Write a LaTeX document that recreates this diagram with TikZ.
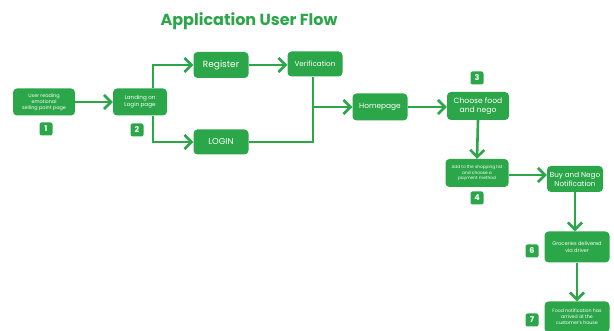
\documentclass[tikz,border=0pt]{standalone}
\usepackage{fontspec}
\setmainfont{Poppins}
\usetikzlibrary{calc, positioning, arrows.meta}

\begin{document}
\begin{tikzpicture}[x=1pt,y=1pt]
\definecolor{flowgreen}{RGB}{43,166,73}
\tikzset{
  stepbox/.style={fill=flowgreen, rounded corners=4pt, text=white, align=center,
    inner sep=1pt},
  badge/.style={fill=flowgreen, rounded corners=2pt, text=white, minimum size=13pt,
    inner sep=0pt, font=\bfseries\fontsize{8}{8}\selectfont},
  flow/.style={draw=flowgreen, line width=2.6pt, -{Straight Barb[length=7pt,width=14pt]}},
  wire/.style={draw=flowgreen, line width=2.6pt},
}
\useasboundingbox (0,0) rectangle (614,-331);

\node[text=flowgreen, font=\bfseries\fontsize{16}{16}\selectfont] (title) at (249,-21) {Application User Flow};

% steps of the flow
\node[stepbox, minimum width=62pt, minimum height=27pt, font=\fontsize{4.9}{6}\selectfont] (sell) at (44,-102) {User reading\\emotional\\selling point page};
\node[stepbox, minimum width=54pt, minimum height=27pt, font=\fontsize{5.6}{7}\selectfont] (land) at (140,-102) {Landing on\\Login page};
\node[stepbox, minimum width=55pt, minimum height=26pt, font=\fontsize{9}{10}\selectfont] (reg) at (221,-65) {Register};
\node[stepbox, minimum width=55pt, minimum height=25pt, font=\fontsize{8.5}{10}\selectfont] (login) at (221,-142) {LOGIN};
\node[stepbox, minimum width=55pt, minimum height=25pt, font=\fontsize{7.2}{9}\selectfont] (verif) at (315,-64) {Verification};
\node[stepbox, minimum width=55pt, minimum height=27pt, font=\fontsize{7.4}{9}\selectfont] (home) at (380,-107) {Homepage};
\node[stepbox, minimum width=62pt, minimum height=28pt, font=\fontsize{7.6}{9.5}\selectfont] (choose) at (478,-106) {Choose food\\and nego};
\node[stepbox, minimum width=63pt, minimum height=28pt, font=\fontsize{4.3}{5.3}\selectfont] (shop) at (477,-173) {Add to the shopping list\\and choose a\\payment method};
\node[stepbox, minimum width=56pt, minimum height=26pt, font=\fontsize{7.2}{9}\selectfont] (notify) at (575,-179) {Buy and Nego\\Notification};
\node[stepbox, minimum width=65pt, minimum height=31pt, font=\fontsize{5.1}{6.5}\selectfont] (deliver) at (577,-247) {Groceries delivered\\via driver};
\node[stepbox, minimum width=65pt, minimum height=31pt, font=\fontsize{4.7}{6}\selectfont] (arrive) at (577,-317) {Food notification has\\arrived at the\\customer's house};

% step numbers
\node[badge] (b1) at (46,-129) {1};
\node[badge] (b2) at (137,-130) {2};
\node[badge] (b3) at (477,-78) {3};
\node[badge] (b4) at (477,-198) {4};
\node[badge] (b6) at (532,-251) {6};
\node[badge] (b7) at (532,-320) {7};

% connectors
\draw[flow] (sell.east) -- (land.west);
\draw[flow] ([xshift=13pt]land.north) |- (reg.west);
\draw[flow] ([xshift=13pt]land.south) |- (login.west);
\draw[flow] (reg.east) -- (reg.east -| verif.west);
\draw[wire] (login.east) -| ([xshift=-2pt]verif.south);
\coordinate (join) at ([xshift=-2pt]verif.south |- home.west);
\draw[flow] (join) -- (home.west);
\draw[flow] (home.east) -- (home.east -| choose.west);
\draw[flow] (choose.south) -- (shop.north);
\draw[flow] ([yshift=-2pt]shop.east) -- ([yshift=-2pt]shop.east -| notify.west);
\draw[flow] (notify.south) -- (notify.south |- deliver.north);
\draw[flow] (deliver.south) -- (arrive.north);
\end{tikzpicture}
\end{document}
